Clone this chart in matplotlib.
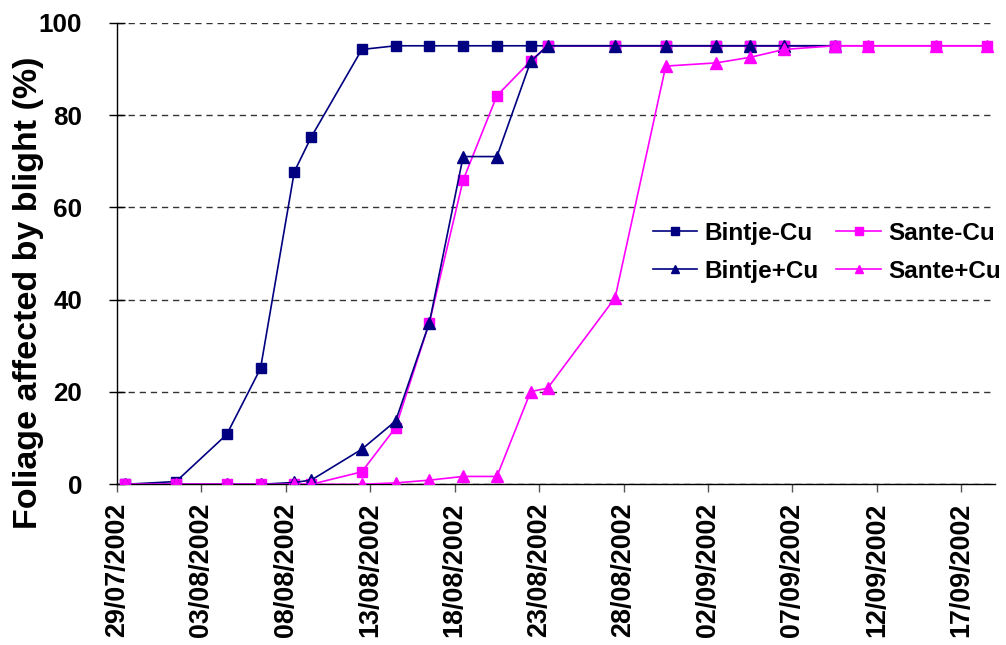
import numpy as np
import matplotlib
matplotlib.use("Agg")
import matplotlib.pyplot as plt
import matplotlib.dates as mdates
from datetime import datetime, timedelta

plt.rcParams['font.family'] = ['Liberation Sans', 'DejaVu Sans']
plt.rcParams['font.weight'] = 'bold'

dates_str = ["29/07/2002", "01/08/2002", "04/08/2002", "06/08/2002", "08/08/2002",
             "09/08/2002", "12/08/2002", "14/08/2002", "16/08/2002", "18/08/2002",
             "20/08/2002", "22/08/2002", "23/08/2002", "27/08/2002", "30/08/2002",
             "02/09/2002", "04/09/2002", "06/09/2002", "09/09/2002", "11/09/2002",
             "15/09/2002", "18/09/2002"]

bintje_minus = [0, 0.6, 10.8, 25.1, 67.7, 75.2, 94.2, 95, 95, 95, 95, 95, 95,
                95, 95, 95, 95, 95, 95]
bintje_plus = [0, 0, 0, 0, 0.4, 0.9, 7.6, 13.7, 35.0, 71.0, 71.0, 91.6, 95,
               95, 95, 95, 95, 95, 95]
sante_minus = [0, 0, 0, 0, 0, 0, 2.7, 12.3, 35.0, 65.9, 84.2, 91.7, 95,
               95, 95, 95, 95, 95, 95, 95, 95, 95]
sante_plus = [0, 0, 0, 0, 0, 0, 0, 0.3, 0.9, 1.7, 1.7, 20.1, 20.8,
              40.4, 90.6, 91.3, 92.5, 94.2, 95, 95, 95, 95]

tick_start = "29/07/2002"
tick_end = "17/09/2002"
axis_end = "19/09/2002"
y_ticks = [0, 20, 40, 60, 80, 100]
y_label = "Foliage affected by blight (%)"

navy = "#000080"
magenta = "#FF00FF"

dates = [datetime.strptime(d, "%d/%m/%Y") + timedelta(hours=12) for d in dates_str]

fig = plt.figure(figsize=(10.06, 6.45), dpi=100)
ax = fig.add_axes([117/1006, 1 - 484.3/645, (995-117)/1006, (484.3-22.7)/645])

ms = 7.2
lw = 1.2
h1, = ax.plot(dates[:len(bintje_minus)], bintje_minus, color=navy, marker='s', ms=ms,
              lw=lw, mec=navy, label="Bintje-Cu", zorder=3)
h3, = ax.plot(dates[:len(sante_minus)], sante_minus, color=magenta, marker='s', ms=ms,
              lw=lw, mec=magenta, label="Sante-Cu", zorder=4)
h2, = ax.plot(dates[:len(bintje_plus)], bintje_plus, color=navy, marker='^', ms=ms + 0.8,
              lw=lw, mec=navy, label="Bintje+Cu", zorder=5)
h4, = ax.plot(dates[:len(sante_plus)], sante_plus, color=magenta, marker='^', ms=ms + 0.8,
              lw=lw, mec=magenta, label="Sante+Cu", zorder=6)

t0 = datetime.strptime(tick_start, "%d/%m/%Y")
t1 = datetime.strptime(tick_end, "%d/%m/%Y")
te = datetime.strptime(axis_end, "%d/%m/%Y")
ax.set_xlim(t0, te)
ax.set_ylim(0, 100)
xt = []
d = t0
while d <= t1:
    xt.append(d)
    d += timedelta(days=5)
ax.set_xticks(xt)
ax.xaxis.set_major_formatter(mdates.DateFormatter("%d/%m/%Y"))
ax.set_yticks(y_ticks)

for lab in ax.get_xticklabels():
    lab.set_rotation(90)
ax.tick_params(axis='x', direction='out', length=6, width=1, pad=7, labelsize=19.4,
               color='#555555')
ax.tick_params(axis='y', direction='inout', length=12, width=1, pad=19, labelsize=18.7)

ax.yaxis.grid(True, color='#333333', linestyle=(0, (4.5, 3.5)), linewidth=1)
ax.set_axisbelow(True)
for s in ['top', 'right']:
    ax.spines[s].set_visible(False)
ax.spines['left'].set_linewidth(1)
ax.spines['bottom'].set_linewidth(1)

ax.set_ylabel(y_label, fontsize=24.5, fontweight='bold')
ax.yaxis.set_label_coords(-0.083, 0.414)

leg = ax.legend(handles=[h1, h2, h3, h4], ncol=2, loc='upper left',
                bbox_to_anchor=(0.585, 0.616), frameon=False, fontsize=17.5,
                handlelength=1.85, columnspacing=0.7, handletextpad=0.3,
                labelspacing=0.62, markerscale=0.8)

fig.savefig("out.png", dpi=100)
